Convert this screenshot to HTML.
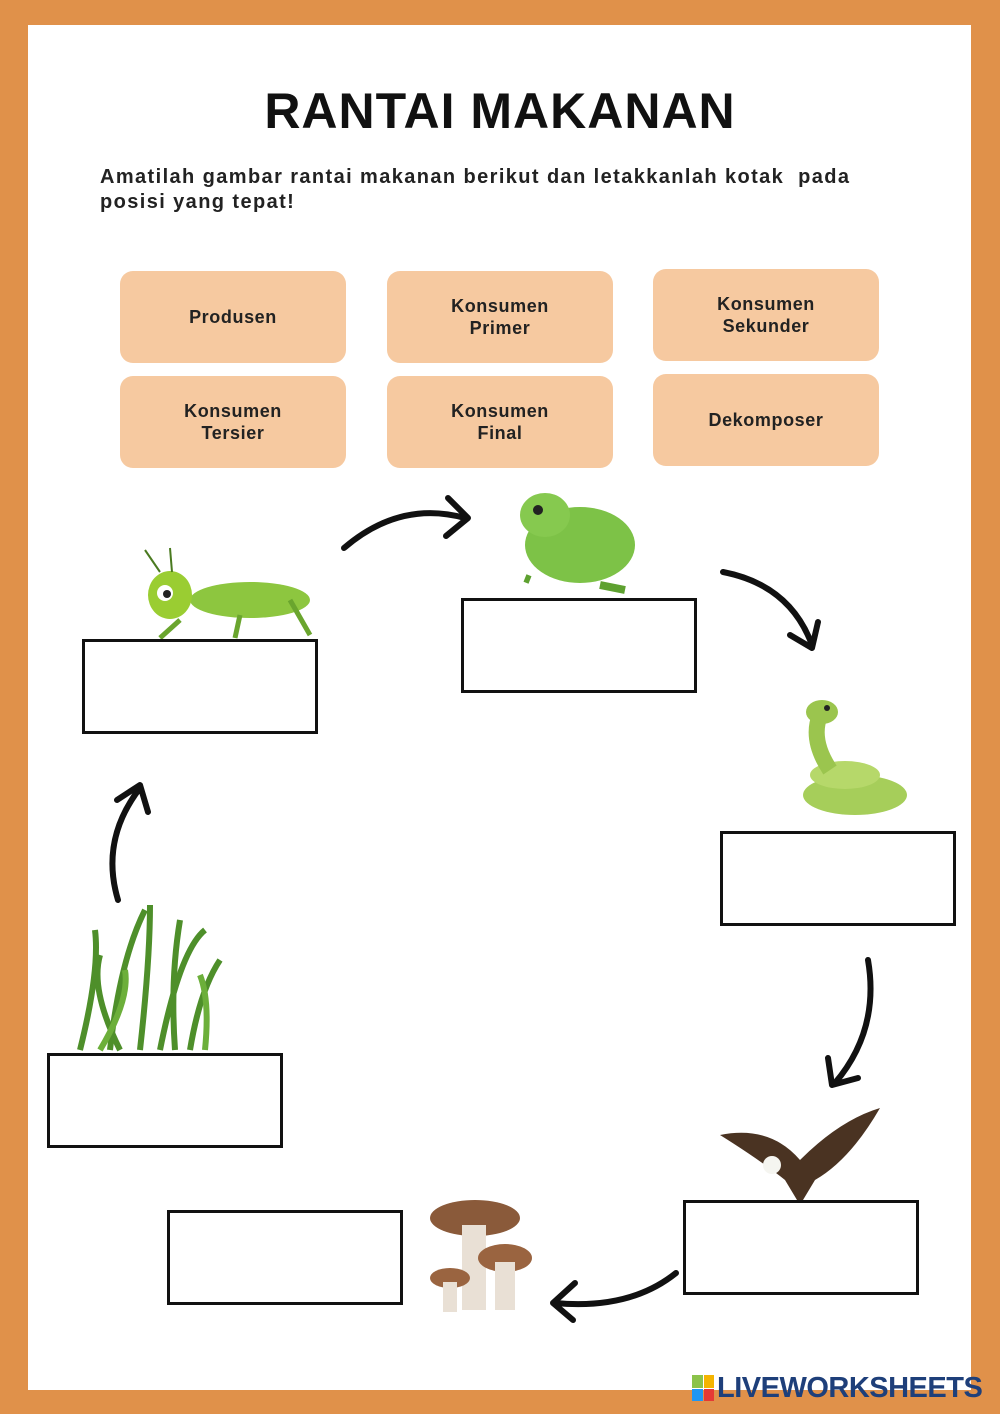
<!DOCTYPE html>
<html><head><meta charset="utf-8"><style>
body{margin:0;width:1000px;height:1414px;background:#E0914A;position:relative;overflow:hidden;font-family:"Liberation Sans",sans-serif}
.page{position:absolute;left:28px;top:25px;width:943px;height:1365px;background:#fff}
.t{position:absolute;left:0;width:1000px;top:82px;text-align:center;font-size:50px;font-weight:900;letter-spacing:1px;color:#111}
.ins{position:absolute;left:100px;top:165px;font-size:20px;font-weight:bold;color:#222;line-height:25px;width:850px;letter-spacing:1.4px;white-space:nowrap}
.c{position:absolute;width:226px;height:92px;background:#F6C9A0;border-radius:13px;display:flex;align-items:center;justify-content:center;text-align:center;font-size:18px;font-weight:bold;color:#222;line-height:22px;letter-spacing:0.6px}
.b{position:absolute;width:230px;height:89px;border:3px solid #111;background:#fff}
</style></head><body>
<div class="page"></div>
<div class="t">RANTAI MAKANAN</div>
<div class="ins">Amatilah gambar rantai makanan berikut dan letakkanlah kotak&nbsp; pada<br>posisi yang tepat!</div>
<div class="c" style="left:120px;top:271px">Produsen</div>
<div class="c" style="left:387px;top:271px">Konsumen<br>Primer</div>
<div class="c" style="left:653px;top:269px">Konsumen<br>Sekunder</div>
<div class="c" style="left:120px;top:376px">Konsumen<br>Tersier</div>
<div class="c" style="left:387px;top:376px">Konsumen<br>Final</div>
<div class="c" style="left:653px;top:374px">Dekomposer</div>
<svg style="position:absolute;left:0;top:0" width="1000" height="1414">
<g fill="none" stroke="#111" stroke-width="6" stroke-linecap="round" stroke-linejoin="round">
<path d="M344 548 Q400 500 465 518"/><path d="M448 498 L468 518 L446 536"/>
<path d="M723 572 Q790 585 812 645"/><path d="M790 635 L812 648 L818 622"/>
<path d="M868 960 Q880 1030 835 1083"/><path d="M828 1058 L832 1085 L858 1078"/>
<path d="M676 1273 Q630 1310 555 1303"/><path d="M575 1283 L553 1303 L573 1320"/>
<path d="M118 900 Q100 840 140 788"/><path d="M117 800 L140 785 L148 812"/>
</g>
<g><ellipse cx="250" cy="600" rx="60" ry="18" fill="#8DC63F"/><ellipse cx="170" cy="595" rx="22" ry="24" fill="#9ACD32"/><circle cx="165" cy="593" r="8" fill="#fff"/><circle cx="167" cy="594" r="4" fill="#222"/><path d="M160 572 L145 550 M172 572 L170 548" stroke="#4a7a20" stroke-width="2"/><path d="M180 620 L160 638 M240 615 L235 638 M290 600 L310 635" stroke="#6aa52e" stroke-width="5"/></g>
<g><ellipse cx="580" cy="545" rx="55" ry="38" fill="#7DC247"/><ellipse cx="545" cy="515" rx="25" ry="22" fill="#86C94F"/><circle cx="538" cy="510" r="5" fill="#222"/><path d="M530 580 L525 578 M600 585 L625 590" stroke="#5ea130" stroke-width="8"/></g>
<g><ellipse cx="855" cy="795" rx="52" ry="20" fill="#A6CE5A"/><ellipse cx="845" cy="775" rx="35" ry="14" fill="#B6D86A"/><path d="M830 770 Q810 740 820 715" stroke="#9BC54E" stroke-width="16" fill="none"/><ellipse cx="822" cy="712" rx="16" ry="12" fill="#9BC54E"/><circle cx="827" cy="708" r="3" fill="#222"/></g>
<g stroke="#4E8F2A" stroke-width="6" fill="none"><path d="M80 1050 Q100 970 95 930"/><path d="M110 1050 Q120 960 145 910"/><path d="M140 1050 Q150 960 150 905"/><path d="M160 1050 Q180 950 205 930"/><path d="M190 1050 Q200 990 220 960"/><path d="M120 1050 Q90 990 100 955"/><path d="M175 1050 Q170 980 180 920"/><path d="M100 1050 Q130 1000 125 970" stroke="#6CAF3A"/><path d="M205 1050 Q210 1000 200 975" stroke="#6CAF3A"/></g>
<g><path d="M720 1135 Q770 1125 800 1160 Q840 1120 880 1108 Q850 1160 815 1180 L800 1205 L785 1180 Q760 1160 720 1135Z" fill="#4a3322"/><circle cx="772" cy="1165" r="9" fill="#f5f5f0"/></g>
<g><ellipse cx="475" cy="1218" rx="45" ry="18" fill="#8A5A3A"/><rect x="462" y="1225" width="24" height="85" fill="#E9E0D5"/><ellipse cx="505" cy="1258" rx="27" ry="14" fill="#9A6440"/><rect x="495" y="1262" width="20" height="48" fill="#E9E0D5"/><ellipse cx="450" cy="1278" rx="20" ry="10" fill="#9A6440"/><rect x="443" y="1282" width="14" height="30" fill="#E9E0D5"/></g>
</svg>
<div class="b" style="left:82px;top:639px"></div>
<div class="b" style="left:461px;top:598px"></div>
<div class="b" style="left:720px;top:831px"></div>
<div class="b" style="left:47px;top:1053px"></div>
<div class="b" style="left:683px;top:1200px"></div>
<div class="b" style="left:167px;top:1210px"></div>
<div style="position:absolute;left:692px;top:1375px;width:22px;height:26px;display:grid;grid-template-columns:1fr 1fr;gap:1px">
<div style="background:#8BC34A"></div><div style="background:#F4B400"></div><div style="background:#2196F3"></div><div style="background:#E53935"></div></div>
<div style="position:absolute;left:717px;top:1372px;font-size:29px;font-weight:900;color:#1E3F7A;letter-spacing:-0.5px">LIVEWORKSHEETS</div>
</body></html>
